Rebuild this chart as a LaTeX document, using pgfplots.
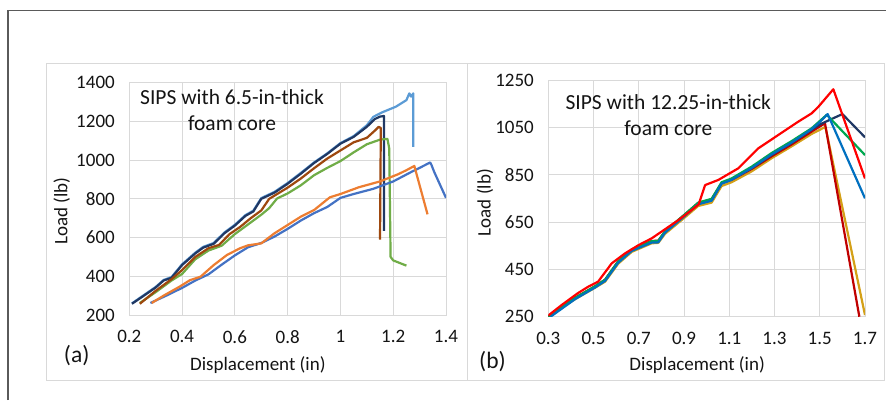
\documentclass[border=0pt]{standalone}
\usepackage{fontspec}
\setmainfont{Carlito}
\usepackage{pgfplots}
\pgfplotsset{compat=1.18}

\definecolor{gridgray}{RGB}{217,217,217}
\definecolor{framegray}{RGB}{90,90,90}
\definecolor{txt}{RGB}{20,20,20}
% panel (a)
\definecolor{navyA}{RGB}{32,56,100}
\definecolor{lblueA}{RGB}{91,155,213}
\definecolor{brownA}{RGB}{158,72,14}
\definecolor{greenA}{RGB}{112,173,71}
\definecolor{orangeA}{RGB}{237,125,49}
\definecolor{blueA}{RGB}{68,114,196}
% panel (b)
\definecolor{redB}{RGB}{255,0,0}
\definecolor{navyB}{RGB}{32,56,100}
\definecolor{greenB}{RGB}{0,168,80}
\definecolor{blueB}{RGB}{0,112,192}
\definecolor{dredB}{RGB}{192,0,0}
\definecolor{goldB}{RGB}{212,160,23}

\pgfplotsset{sipsax/.style={
  scale only axis,
  grid=major,
  major grid style={draw=gridgray, line width=1pt},
  axis line style={draw=gridgray, line width=1pt},
  major tick length=0pt,
  tick style={draw=none},
  tick label style={font=\fontsize{19}{21}\selectfont, text=txt},
  xticklabel style={yshift=-12pt},
  yticklabel style={xshift=-11pt},
  /pgf/number format/assume math mode=true,
  /pgf/number format/1000 sep={},
  label style={font=\fontsize{19}{21}\selectfont, text=txt},
  every axis plot/.append style={line width=2.2pt, line join=round, mark=none},
}}

\begin{document}
\begin{tikzpicture}
\fill[white] (0,0) rectangle (886pt,400pt);
\useasboundingbox (0,0) rectangle (886pt,400pt);
\draw[framegray, line width=1.3pt] (8pt,0pt) -- (8pt,389.3pt) -- (886pt,389.3pt);
\draw[gridgray, line width=1pt] (46.7pt,20pt) rectangle (467pt,337pt);
\draw[gridgray, line width=1pt] (467pt,20pt) rectangle (884pt,337pt);

% ---------- panel (a)
\begin{axis}[sipsax,
  at={(129.3pt,85pt)}, anchor=south west,
  width=316.7pt, height=232.3pt,
  xmin=0.2, xmax=1.4, ymin=200, ymax=1400,
  xtick={0.2,0.4,0.6,0.8,1,1.2,1.4},
  ytick={200,400,...,1400},
  xlabel={Displacement (in)}, ylabel={Load (lb)},
  xlabel style={at={(axis description cs:0.406,-0.215)}, anchor=center},
  ylabel style={at={(axis description cs:-0.213,0.448)}, anchor=center},
]
\addplot[lblueA] coordinates {(0.21,260) (0.25,298) (0.30,345) (0.33,381) (0.36,396)
  (0.40,462) (0.45,522) (0.48,552) (0.52,572) (0.56,626) (0.60,666) (0.64,716)
  (0.67,739) (0.70,804) (0.75,836) (0.80,882) (0.85,934) (0.90,988) (0.95,1035)
  (1.00,1088) (1.05,1124) (1.10,1180) (1.125,1224) (1.16,1248) (1.21,1276)
  (1.25,1310) (1.261,1345) (1.268,1328) (1.276,1345) (1.276,1068)};
\addplot[navyA] coordinates {(0.21,258) (0.25,295) (0.30,342) (0.33,378) (0.36,392)
  (0.40,458) (0.45,518) (0.48,548) (0.52,568) (0.56,622) (0.60,662) (0.64,712)
  (0.67,735) (0.70,800) (0.75,832) (0.80,878) (0.85,930) (0.90,985) (0.95,1032)
  (1.00,1085) (1.05,1120) (1.10,1172) (1.13,1212) (1.15,1225) (1.165,1228)
  (1.165,635)};
\addplot[greenA] coordinates {(0.24,262) (0.30,318) (0.36,378) (0.40,412) (0.45,488)
  (0.50,533) (0.55,558) (0.60,618) (0.65,668) (0.70,718) (0.73,752) (0.76,802)
  (0.80,828) (0.85,870) (0.90,922) (0.95,960) (1.00,995) (1.05,1040) (1.10,1082)
  (1.15,1106) (1.178,1110) (1.185,1060) (1.19,500) (1.20,482) (1.25,455)};
\addplot[brownA] coordinates {(0.24,258) (0.30,325) (0.36,385) (0.40,432) (0.45,500)
  (0.50,545) (0.54,562) (0.58,618) (0.62,655) (0.66,700) (0.70,740) (0.73,800)
  (0.80,858) (0.85,905) (0.90,958) (0.95,1008) (1.00,1050) (1.05,1092) (1.10,1115)
  (1.13,1152) (1.145,1172) (1.153,1166) (1.15,590)};
\addplot[blueA] coordinates {(0.28,262) (0.34,300) (0.40,340) (0.45,378) (0.50,410)
  (0.55,460) (0.60,508) (0.65,550) (0.70,572) (0.75,605) (0.80,645) (0.85,688)
  (0.90,726) (0.95,758) (1.00,805) (1.05,825) (1.125,852) (1.20,890) (1.27,940)
  (1.30,960) (1.34,988) (1.345,975) (1.355,940) (1.40,805)};
\addplot[orangeA] coordinates {(0.285,262) (0.33,300) (0.39,346) (0.43,380) (0.47,398)
  (0.52,458) (0.57,510) (0.62,545) (0.65,560) (0.70,570) (0.75,622) (0.80,665)
  (0.85,708) (0.90,742) (0.96,808) (1.00,825) (1.07,860) (1.15,890) (1.22,928)
  (1.25,948) (1.28,970) (1.33,720)};
\end{axis}

% ---------- panel (b)
\begin{axis}[sipsax,
  at={(548.3pt,83.3pt)}, anchor=south west,
  width=316.7pt, height=236.7pt,
  xmin=0.3, xmax=1.7, ymin=250, ymax=1250,
  xtick={0.3,0.5,...,1.7},
  ytick={250,450,...,1250},
  xlabel={Displacement (in)}, ylabel={Load (lb)},
  xlabel style={at={(axis description cs:0.47,-0.204)}, anchor=center},
  ylabel style={at={(axis description cs:-0.2,0.482)}, anchor=center},
]
\addplot[goldB] coordinates {(0.30,250) (0.418,324) (0.506,372) (0.551,398)
  (0.609,474) (0.669,524) (0.757,560) (0.786,562) (0.816,600) (0.904,670)
  (0.963,718) (1.022,732) (1.066,802) (1.11,818) (1.199,864) (1.288,920)
  (1.376,970) (1.464,1022) (1.525,1052) (1.70,257)};
\addplot[dredB] coordinates {(0.30,252) (0.418,330) (0.506,378) (0.551,406)
  (0.609,484) (0.669,534) (0.757,570) (0.786,571) (0.816,610) (0.904,682)
  (0.963,731) (1.022,746) (1.066,814) (1.11,828) (1.199,874) (1.288,928)
  (1.376,978) (1.464,1032) (1.523,1067) (1.675,250)};
\addplot[navyB] coordinates {(0.30,250) (0.418,328) (0.506,377) (0.551,405)
  (0.609,482) (0.669,532) (0.757,567) (0.786,568) (0.816,609) (0.904,680)
  (0.963,729) (1.022,743) (1.066,814) (1.11,830) (1.199,878) (1.288,934)
  (1.376,985) (1.464,1040) (1.50,1062) (1.545,1082) (1.60,1106) (1.70,1008)};
\addplot[greenB] coordinates {(0.30,250) (0.418,329) (0.506,378) (0.551,406)
  (0.609,484) (0.669,534) (0.757,569) (0.786,570) (0.816,611) (0.904,683)
  (0.963,732) (1.022,748) (1.066,818) (1.11,834) (1.199,884) (1.288,942)
  (1.376,992) (1.464,1046) (1.531,1103) (1.70,933)};
\addplot[blueB] coordinates {(0.31,250) (0.418,324) (0.506,373) (0.551,401)
  (0.609,478) (0.669,528) (0.757,563) (0.786,564) (0.816,605) (0.904,676)
  (0.963,725) (1.022,740) (1.066,812) (1.11,828) (1.199,878) (1.288,936)
  (1.376,986) (1.464,1042) (1.50,1072) (1.535,1106) (1.70,750)};
\addplot[redB] coordinates {(0.30,255) (0.36,300) (0.43,349) (0.477,377) (0.52,398)
  (0.58,475) (0.64,518) (0.70,553) (0.757,581) (0.80,609) (0.875,658) (0.934,701)
  (0.965,725) (0.993,806) (1.052,828) (1.14,877) (1.228,961) (1.317,1018)
  (1.405,1074) (1.464,1109) (1.494,1137) (1.56,1211) (1.70,834)};
\end{axis}

% annotations
\node[font=\fontsize{21.5}{25.7}\selectfont, align=center, text=txt] at (232pt,290pt)
  {SIPS with 6.5-in-thick\\foam core};
\node[font=\fontsize{21.5}{25.7}\selectfont, align=center, text=txt] at (668.3pt,284.7pt)
  {SIPS with 12.25-in-thick\\foam core};
\node[font=\fontsize{23.5}{26}\selectfont, text=txt] at (76.7pt,44pt) {(a)};
\node[font=\fontsize{23.5}{26}\selectfont, text=txt] at (492.5pt,38pt) {(b)};
\end{tikzpicture}
\end{document}
